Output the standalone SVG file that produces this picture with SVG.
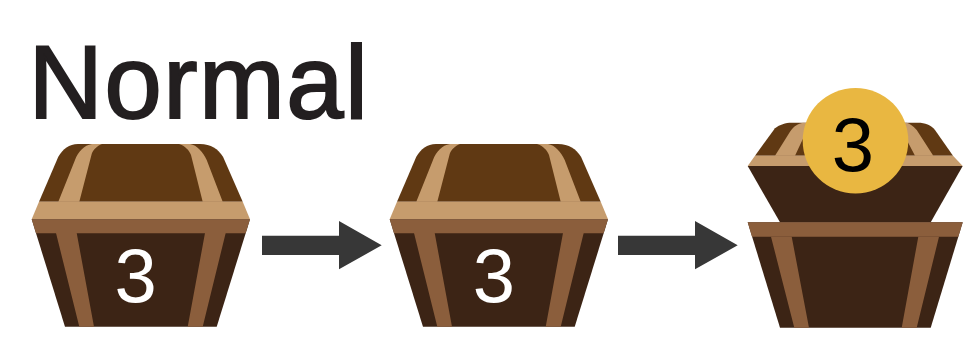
<svg xmlns="http://www.w3.org/2000/svg" width="972" height="343" viewBox="0 0 972 343">
<style>
.lid{fill:#603913}.tan{fill:#c69c6d}.band{fill:#8b5e3c}.body{fill:#3c2415}.arrow{fill:#373737}
text{font-family:"Liberation Sans",Arial,sans-serif}
.num{font-size:76px;text-anchor:middle}
</style>
<defs>
<g id="chest">
<path class="lid" d="M39 201.700L58.300 156.700C63 149 69 144 78 144H200C211 144 218 149 223 156.700L242.700 201.700Z"/>
<path class="tan" d="M58.300 201.700L75 160C78 152 84 145 92 144H102C97 146 93 150 91.700 154L79.300 201.700ZM222.700 201.700L206.700 160C203 152 197 145 190 144H179C185 146 189 150 191 155L202.700 201.700Z"/>
<path class="tan" d="M39 201.700H242.700L250 219.300H31.700Z"/>
<path class="body" d="M31.700 219.300H250L216.700 326.700H65Z"/>
<path class="band" d="M31.700 219.300H250L245.600 233.300H36Z"/>
<path class="band" d="M56 233H76.700L94 326.700H79.300ZM205 233H225.700L202.700 326.700H187.700Z"/>
</g>
</defs>
<text id="title" x="28.500" y="117.700" font-size="103" letter-spacing="1.500" fill="#231f20" stroke="#231f20" stroke-width="2">Normal</text>
<g id="chest1">
<use href="#chest"/>
<text class="num" x="135.700" y="302" fill="#fff">3</text>
</g>
<g id="chest2">
<use href="#chest" x="358"/>
<text class="num" x="494" y="302" fill="#fff">3</text>
</g>
<g id="connectors">
<path class="arrow" d="M262 235.700H339V221L381.700 245.300L339 269.300V255H262Z"/>
<path class="arrow" d="M618 235.700H695V221L737.700 245.300L695 269.300V255H618Z"/>
</g>
<g id="chest3">
<path class="lid" d="M755 155.700L775 128.300C780 124.500 785 122.700 792 122.700H918C925 122.700 931 125 935 130L953 155.700Z"/>
<path class="tan" d="M775 155.700L790 131.700C794 126 798 123.500 803 122.700H814V130C810 131 806 133 803.300 138L795 155.700ZM933.300 155.700L916.700 130C913 126 910 123.500 906.700 122.700H896V130C901 131 903.500 133 905.700 138L915 155.700Z"/>
<path class="tan" d="M755 155.700H953L962.700 166H747.700Z"/>
<path class="body" d="M747.700 166H962.700L930.700 222.300H780Z"/>
<path class="body" d="M747.700 222.300H962.700L930.700 327.700H780Z"/>
<path class="band" d="M747.700 222.300H962.700L958.300 236.700H752Z"/>
<path class="band" d="M771 236.700H791.700L809 327.700H794.300ZM918.300 236.700H939L916.700 327.700H901.700Z"/>
<circle cx="855.500" cy="140.700" r="52.800" fill="#e9b741"/>
<text class="num" x="853" y="170.700" fill="#000">3</text>
</g>
</svg>
